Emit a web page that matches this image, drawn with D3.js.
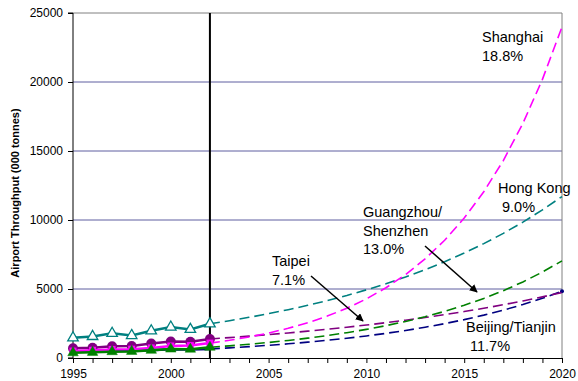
<!DOCTYPE html>
<html>
<head>
<meta charset="utf-8">
<script src="https://cdn.jsdelivr.net/npm/d3@7/dist/d3.min.js"></script>
<style>
  html, body { margin: 0; padding: 0; background: #fff; }
  svg { display: block; font-family: Arial, "Liberation Sans", sans-serif; }
</style>
</head>
<body>
<svg id="chart" width="578" height="381"></svg>
<script>
// Historical airport cargo throughput, 1995-2002 (000 tonnes)
const histYears = [1995, 1996, 1997, 1998, 1999, 2000, 2001, 2002];
const hongKongHist  = [1460, 1560, 1790, 1630, 1970, 2240, 2070, 2480];
const taipeiHist    = [700, 740, 850, 870, 1050, 1200, 1180, 1380];
const shanghaiHist  = [500, 560, 620, 640, 730, 870, 900, 1080];
const guangzhouHist = [380, 410, 460, 480, 560, 650, 640, 780];
const beijingHist   = [450, 480, 520, 520, 570, 630, 610, 660];

// Forecast throughput, 2002-2020 (000 tonnes)
const projYears = [2002, 2003, 2004, 2005, 2006, 2007, 2008, 2009, 2010, 2011,
                   2012, 2013, 2014, 2015, 2016, 2017, 2018, 2019, 2020];
const hongKongProj  = [2480, 2703, 2947, 3212, 3501, 3816, 4159, 4533, 4941, 5386,
                       5871, 6399, 6975, 7603, 8287, 9033, 9846, 10732, 11698];
const taipeiProj    = [1380, 1478, 1583, 1695, 1816, 1945, 2083, 2231, 2389, 2559,
                       2740, 2935, 3143, 3366, 3605, 3861, 4135, 4429, 4743];
const shanghaiProj  = [1080, 1283, 1524, 1811, 2151, 2555, 3036, 3606, 4284, 5090,
                       6046, 7183, 8534, 10138, 12044, 14308, 16998, 20194, 23990];
const guangzhouProj = [780, 881, 996, 1125, 1272, 1437, 1624, 1835, 2074, 2343,
                       2648, 2992, 3381, 3821, 4317, 4879, 5513, 6230, 7040];
const beijingProj   = [660, 737, 823, 920, 1027, 1147, 1282, 1432, 1599, 1786,
                       1995, 2229, 2489, 2781, 3106, 3469, 3875, 4329, 4835];

const xTicks = [1995, 2000, 2005, 2010, 2015, 2020];
const yTicks = [0, 5000, 10000, 15000, 20000, 25000];
const baseYear = 2002;

const series = [
  { name: "Beijing/Tianjin", color: "#000080", hist: beijingHist, proj: beijingProj, marker: "none", endDot: true },
  { name: "Hong Kong", color: "#008080", hist: hongKongHist, proj: hongKongProj, marker: "openTriangle" },
  { name: "Taipei", color: "#800080", hist: taipeiHist, proj: taipeiProj, marker: "circle" },
  { name: "Shanghai", color: "#ff00ff", hist: shanghaiHist, proj: shanghaiProj, marker: "square" },
  { name: "Guangzhou/Shenzhen", color: "#008000", hist: guangzhouHist, proj: guangzhouProj, marker: "triangle" }
];

// Label text blocks with arrow pointers where needed
const labels = [
  { lines: ["Shanghai", "18.8%"], x: 482, y: 42 },
  { lines: ["Hong Kong", " 9.0%"], x: 498, y: 193 },
  { lines: ["Guangzhou/", "Shenzhen", "13.0%"], x: 363, y: 217 },
  { lines: ["Taipei", "7.1%"], x: 272, y: 266 },
  { lines: ["Beijing/Tianjin", " 11.7%"], x: 466, y: 332 }
];
const arrows = [
  { from: [311, 276], to: [363, 321] },
  { from: [425, 246], to: [477, 292] }
];

const svg = d3.select("#chart");
const plot = { left: 73, right: 562, top: 13, bottom: 358 };

const x = d3.scaleLinear().domain([1995, 2020]).range([plot.left, plot.right]);
const y = d3.scaleLinear().domain([0, 25000]).range([plot.bottom, plot.top]);

// Horizontal gridlines
svg.append("g")
  .selectAll("line")
  .data(yTicks.filter(d => d > 0))
  .join("line")
  .attr("x1", plot.left).attr("x2", plot.right)
  .attr("y1", d => y(d)).attr("y2", d => y(d))
  .attr("stroke", d => d === 25000 ? "#808080" : "#5f5fa0")
  .attr("stroke-width", 1);

// Right border of plot area
svg.append("line")
  .attr("x1", plot.right).attr("x2", plot.right)
  .attr("y1", plot.top).attr("y2", plot.bottom)
  .attr("stroke", "#808080").attr("stroke-width", 1);

// Axes
const xAxis = d3.axisBottom(x)
  .tickValues(d3.range(1995, 2021))
  .tickSize(5)
  .tickFormat(d => xTicks.includes(d) ? d : "");
const gx = svg.append("g")
  .attr("transform", `translate(0,${plot.bottom})`)
  .call(xAxis);
gx.select(".domain").attr("stroke", "#000");
gx.selectAll(".tick line").attr("stroke", "#000");
gx.selectAll(".tick text")
  .attr("font-size", 12).attr("fill", "#000")
  .attr("font-family", "Arial, 'Liberation Sans', sans-serif")
  .attr("y", 11).attr("dy", "0.71em");

const yAxis = d3.axisLeft(y)
  .tickValues(yTicks)
  .tickSize(5)
  .tickFormat(d3.format("d"));
const gy = svg.append("g")
  .attr("transform", `translate(${plot.left},0)`)
  .call(yAxis);
gy.select(".domain").attr("stroke", "#000").attr("d", `M-5,${plot.top}H0V${plot.bottom}H-5`);
gy.selectAll(".tick line").attr("stroke", "#000");
gy.selectAll(".tick text")
  .attr("font-size", 12).attr("fill", "#000")
  .attr("font-family", "Arial, 'Liberation Sans', sans-serif")
  .attr("x", -10);

// Y axis title
svg.append("text")
  .attr("transform", `translate(19,193) rotate(-90)`)
  .attr("text-anchor", "middle")
  .attr("font-size", 11)
  .attr("font-weight", "bold")
  .attr("fill", "#000")
  .text("Airport Throughput (000 tonnes)");

// Base-year divider
svg.append("line")
  .attr("x1", x(baseYear)).attr("x2", x(baseYear))
  .attr("y1", plot.top).attr("y2", plot.bottom)
  .attr("stroke", "#000").attr("stroke-width", 2);

const line = d3.line().x(d => x(d[0])).y(d => y(d[1]));

// Forecast dashed lines
series.forEach(s => {
  const pts = projYears.map((yr, i) => [yr, s.proj[i]]);
  svg.append("path")
    .attr("d", line(pts))
    .attr("fill", "none")
    .attr("stroke", s.color)
    .attr("stroke-width", 1.6)
    .attr("stroke-dasharray", "10,5");
  if (s.endDot) {
    const last = pts[pts.length - 1];
    svg.append("circle")
      .attr("cx", x(last[0])).attr("cy", y(last[1]))
      .attr("r", 2).attr("fill", s.color);
  }
});

// Historical solid lines with markers
series.forEach(s => {
  const pts = histYears.map((yr, i) => [yr, s.hist[i]]);
  svg.append("path")
    .attr("d", line(pts))
    .attr("fill", "none")
    .attr("stroke", s.color)
    .attr("stroke-width", 2.5);
  const g = svg.append("g");
  if (s.marker === "circle") {
    g.selectAll("circle").data(pts).join("circle")
      .attr("cx", d => x(d[0])).attr("cy", d => y(d[1]))
      .attr("r", 5).attr("fill", s.color);
  } else if (s.marker === "square") {
    g.selectAll("rect").data(pts).join("rect")
      .attr("x", d => x(d[0]) - 3.5).attr("y", d => y(d[1]) - 3.5)
      .attr("width", 7).attr("height", 7).attr("fill", s.color);
  } else if (s.marker === "triangle" || s.marker === "openTriangle") {
    const tri = d3.symbol().type(d3.symbolTriangle).size(48);
    g.selectAll("path").data(pts).join("path")
      .attr("d", tri)
      .attr("transform", d => `translate(${x(d[0])},${y(d[1])})`)
      .attr("fill", s.marker === "triangle" ? s.color : "#fff")
      .attr("stroke", s.color)
      .attr("stroke-width", s.marker === "triangle" ? 0.5 : 1.3);
  }
});

// Text labels
labels.forEach(l => {
  const t = svg.append("text")
    .attr("x", l.x).attr("y", l.y)
    .attr("font-size", 14.5)
    .attr("fill", "#000")
    .attr("xml:space", "preserve")
    .style("white-space", "pre");
  l.lines.forEach((ln, i) => {
    t.append("tspan").attr("x", l.x).attr("y", l.y + i * 18.5).text(ln);
  });
});

// Pointer arrows
svg.append("defs").append("marker")
  .attr("id", "arrowhead")
  .attr("viewBox", "0 0 10 10")
  .attr("refX", 9).attr("refY", 5)
  .attr("markerWidth", 8).attr("markerHeight", 8)
  .attr("markerUnits", "userSpaceOnUse")
  .attr("orient", "auto")
  .append("path").attr("d", "M0,0L10,5L0,10Z").attr("fill", "#000");

arrows.forEach(a => {
  svg.append("line")
    .attr("x1", a.from[0]).attr("y1", a.from[1])
    .attr("x2", a.to[0]).attr("y2", a.to[1])
    .attr("stroke", "#000").attr("stroke-width", 1.5)
    .attr("marker-end", "url(#arrowhead)");
});
</script>
</body>
</html>
